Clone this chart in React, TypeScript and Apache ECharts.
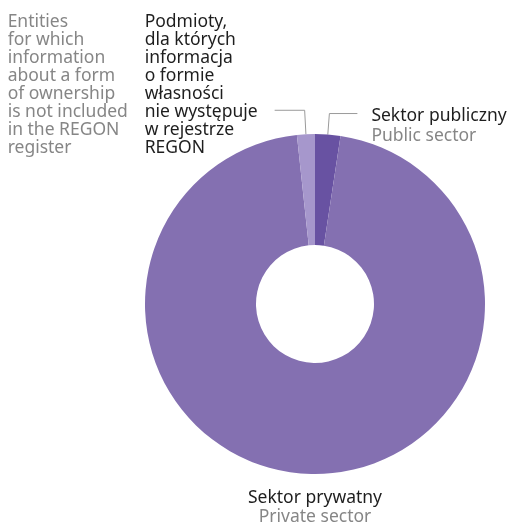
import React, { useEffect, useRef } from "react";
import * as echarts from "echarts";

// Categories (Polish / English)
const categoriesPl = ["Sektor publiczny", "Sektor prywatny", "Podmioty, dla których informacja o formie własności nie występuje w rejestrze REGON"];
const categoriesEn = ["Public sector", "Private sector", "Entities for which information about a form of ownership is not included in the REGON register"];
// Shares in %
const shares = [2.4, 95.9, 1.7];
const colors = ["#6852a2", "#8470b1", "#a697cc"];

// Line-broken label text for the small "not included" slice
const plLines = ["Podmioty,", "dla których", "informacja", "o formie", "własności", "nie występuje", "w rejestrze", "REGON"];
const enLines = ["Entities", "for which", "information", "about a form", "of ownership", "is not included", "in the REGON", "register"];

const FONT = "'Noto Sans', sans-serif";
const FS = 17.5;
const DARK = "#1e1e1e";
const GRAY = "#868686";
const LINE = "#9a9a9a";

export default function App() {
  const ref = useRef<HTMLDivElement>(null);
  useEffect(() => {
    if (!ref.current) return;
    const chart = echarts.init(ref.current, null, { renderer: "svg" });

    const unknownLabel = plLines.map((pl, i) => `{en|${enLines[i]}}{pl|${pl}}`).join("\n");

    const data = [
      {
        name: categoriesPl[0],
        value: shares[0],
        itemStyle: { color: colors[0] },
        label: {
          formatter: `{pl|${categoriesPl[0]}}\n{en|${categoriesEn[0]}}`,
          padding: [20, 0, 0, 0],
          distanceToLabelLine: 14,
          rich: {
            pl: { fontFamily: FONT, fontSize: FS, color: DARK, lineHeight: 20 },
            en: { fontFamily: FONT, fontSize: FS, color: GRAY, lineHeight: 20 },
          },
        },
        labelLine: { length: 21, length2: 28 },
      },
      {
        name: categoriesPl[1],
        value: shares[1],
        itemStyle: { color: colors[1] },
        label: {
          formatter: `{pl|${categoriesPl[1]}}\n{en|${categoriesEn[1]}}`,
          rich: {
            pl: { fontFamily: FONT, fontSize: FS, color: DARK, lineHeight: 19 },
            en: { fontFamily: FONT, fontSize: FS, color: GRAY, lineHeight: 19 },
          },
        },
        labelLine: { show: false, length: 0, length2: 0 },
      },
      {
        name: categoriesPl[2],
        value: shares[2],
        itemStyle: { color: colors[2] },
        label: {
          formatter: unknownLabel,
          padding: [0, 0, 54, 0],
          distanceToLabelLine: 8,
          rich: {
            en: { fontFamily: FONT, fontSize: FS, color: GRAY, lineHeight: 18, width: 137, align: "left" },
            pl: { fontFamily: FONT, fontSize: FS, color: DARK, lineHeight: 18, width: 122, align: "left" },
          },
        },
        labelLine: { length: 24, length2: 30 },
      },
    ];

    chart.setOption({
      animation: false,
      series: [
        {
          type: "pie",
          center: [315, 304],
          radius: [59, 170],
          startAngle: 90,
          clockwise: true,
          avoidLabelOverlap: false,
          itemStyle: { borderWidth: 0 },
          label: { show: true, position: "outside", alignTo: "none" },
          labelLine: { show: true, smooth: false, lineStyle: { color: LINE, width: 1 } },
          emphasis: { disabled: true },
          labelLayout: (p: any) => {
            if (p.dataIndex !== 1) return {};
            return {
              x: p.rect.x + p.rect.width / 2,
              y: p.rect.y + p.rect.height + 12,
              align: "center",
              verticalAlign: "top",
            };
          },
          data,
        },
      ],
    });
    return () => chart.dispose();
  }, []);
  return <div ref={ref} style={{ position: "fixed", left: 0, top: 0, width: 513, height: 525 }} />;
}
